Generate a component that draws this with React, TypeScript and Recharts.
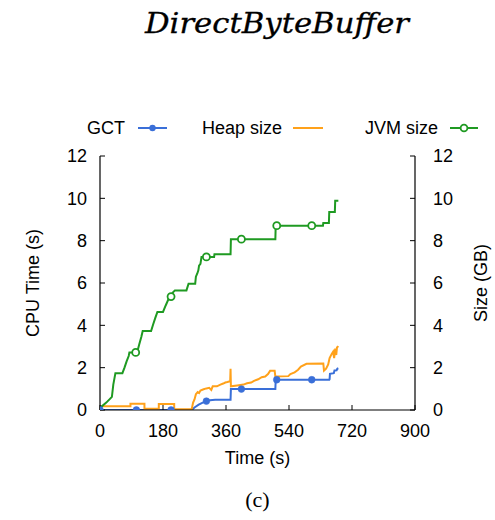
import React from 'react';
import { LineChart, Line, XAxis, YAxis, Legend } from 'recharts';

// Elapsed time (s) vs. metric value, as [time, value] pairs
const gctSeries: [number, number][] = [
  [0, 0], [262, 0], [270, 0.12], [282, 0.25], [292, 0.34], [304, 0.42], [314, 0.46], [329, 0.48],
  [373, 0.48], [374, 0.99], [501, 0.99], [502, 1.43], [655, 1.43], [656, 1.46], [657, 1.71],
  [668, 1.74], [670, 1.87], [676, 1.88], [678, 1.95], [681, 1.97],
];
const gctMarkers: [number, number][] = [
  [0, 0], [104, 0], [203, 0], [304, 0.42], [404, 0.99], [505, 1.43], [605, 1.43],
];

const heapSeries: [number, number][] = [
  [0, 0.18], [87, 0.18], [87, 0.29], [127, 0.29], [127, 0.06], [168, 0.06], [168, 0.28],
  [212, 0.28], [212, 0.04], [262, 0.04], [266, 0.35], [270, 0.5], [274, 0.75], [279, 0.85],
  [283, 0.8], [287, 0.92], [296, 0.98], [304, 1.02], [312, 1.05], [318, 0.95], [322, 1.12],
  [334, 1.12], [344, 1.2], [352, 1.25], [358, 1.3], [364, 1.32], [372, 1.36], [373, 1.95],
  [374, 1.12], [392, 1.16], [410, 1.2], [420, 1.26], [432, 1.3], [440, 1.38], [452, 1.45],
  [462, 1.55], [472, 1.58], [480, 1.7], [486, 1.85], [499, 1.85], [501, 1.58], [538, 1.6],
  [544, 1.7], [556, 1.78], [566, 1.9], [574, 2.05], [590, 2.18], [638, 2.2], [640, 1.86],
  [646, 1.95], [652, 2.15], [656, 2.45], [662, 2.65], [666, 2.75], [669, 2.45], [672, 2.9],
  [675, 2.6], [677, 2.95], [681, 3.02],
];

const jvmSeries: [number, number][] = [
  [0, 0.1], [18, 0.35], [34, 0.62], [38, 1.2], [44, 1.74], [64, 1.74], [70, 2.0], [76, 2.3],
  [82, 2.55], [84, 2.72], [106, 2.72], [112, 3.1], [118, 3.45], [122, 3.73], [146, 3.73],
  [152, 4.05], [158, 4.35], [164, 4.63], [180, 4.63], [188, 4.95], [196, 5.25], [203, 5.36],
  [208, 5.55], [214, 5.65], [247, 5.65], [253, 5.97], [272, 5.97], [274, 6.3], [278, 6.45],
  [281, 6.6], [283, 6.82], [287, 6.9], [290, 7.23], [326, 7.23], [327, 7.36], [373, 7.36],
  [374, 8.07], [501, 8.07], [502, 8.71], [637, 8.71], [638, 8.84], [654, 8.84], [655, 9.36],
  [671, 9.36], [672, 9.88], [681, 9.88],
];
const jvmMarkers: [number, number][] = [
  [102, 2.72], [203, 5.36], [304, 7.23], [404, 8.07], [505, 8.71], [605, 8.71],
];

const timeTicks = [0, 180, 360, 540, 720, 900];
const valueTicks = [0, 2, 4, 6, 8, 10, 12];

const GCT_COLOR = '#3a6fd8';
const HEAP_COLOR = '#ffa11a';
const JVM_COLOR = '#1f9a22';
const FONT = '"Liberation Sans", Arial, sans-serif';

const toRows = (pairs: [number, number][]) => pairs.map(([t, v]) => ({ t, v }));

const tickStyle = { fill: '#000', fontSize: 18, fontFamily: FONT };

const LegendBox = () => (
  <svg width={495} height={30} style={{ display: 'block' }}>
    <g fontFamily={FONT} fontSize={18} fill="#000">
      <text x={125} y={15} textAnchor="end" dominantBaseline="central">GCT</text>
      <line x1={138} x2={167} y1={15} y2={15} stroke={GCT_COLOR} strokeWidth={2} />
      <circle cx={152.5} cy={15} r={3.2} fill={GCT_COLOR} />
      <text x={282} y={15} textAnchor="end" dominantBaseline="central">Heap size</text>
      <line x1={293} x2={323} y1={15} y2={15} stroke={HEAP_COLOR} strokeWidth={2} />
      <text x={438} y={15} textAnchor="end" dominantBaseline="central">JVM size</text>
      <line x1={450} x2={478} y1={15} y2={15} stroke={JVM_COLOR} strokeWidth={2} />
      <circle cx={464} cy={15} r={3.4} fill="#fff" stroke={JVM_COLOR} strokeWidth={1.8} />
    </g>
  </svg>
);

export default function App() {
  return (
    <div style={{ position: 'absolute', left: 0, top: 0, width: 495, height: 520, background: '#fff' }}>
      <LineChart
        width={495}
        height={520}
        margin={{ top: 156, right: 20, bottom: 70, left: 40 }}
        style={{ fontFamily: FONT }}
      >
        <XAxis
          xAxisId={0}
          dataKey="t"
          type="number"
          domain={[0, 900]}
          ticks={timeTicks}
          allowDataOverflow
          height={40}
          axisLine={{ stroke: '#000', strokeWidth: 1.2 }}
          tickLine={{ stroke: '#000', strokeWidth: 1 }}
          tickSize={-5}
          tickMargin={19}
          tick={tickStyle}
        />
        <XAxis
          xAxisId="top"
          orientation="top"
          type="number"
          domain={[0, 900]}
          height={0}
          tick={false}
          tickLine={false}
          axisLine={{ stroke: '#000', strokeWidth: 1.2 }}
        />
        <YAxis
          yAxisId="left"
          type="number"
          domain={[0, 12]}
          ticks={valueTicks}
          allowDataOverflow
          width={60}
          axisLine={{ stroke: '#000', strokeWidth: 1.2 }}
          tickLine={{ stroke: '#000', strokeWidth: 1 }}
          tickSize={-5}
          tickMargin={18}
          tick={tickStyle}
        />
        <YAxis
          yAxisId="right"
          orientation="right"
          type="number"
          domain={[0, 12]}
          ticks={valueTicks}
          allowDataOverflow
          width={60}
          axisLine={{ stroke: '#000', strokeWidth: 1.2 }}
          tickLine={{ stroke: '#000', strokeWidth: 1 }}
          tickSize={-5}
          tickMargin={23}
          tick={{ ...tickStyle, textAnchor: 'start' }}
        />
        <Legend
          layout="horizontal"
          verticalAlign="middle"
          align="center"
          wrapperStyle={{ top: 113, left: 0, width: 495, height: 30 }}
          content={() => <LegendBox />}
        />
        <Line
          yAxisId="left"
          data={toRows(gctSeries)}
          dataKey="v"
          type="linear"
          stroke={GCT_COLOR}
          strokeWidth={2}
          dot={false}
          isAnimationActive={false}
        />
        <Line
          yAxisId="left"
          data={toRows(gctMarkers)}
          dataKey="v"
          stroke="none"
          dot={{ r: 3.4, fill: GCT_COLOR, stroke: GCT_COLOR, strokeWidth: 0.5 }}
          legendType="none"
          isAnimationActive={false}
        />
        <Line
          yAxisId="right"
          data={toRows(heapSeries)}
          dataKey="v"
          type="linear"
          stroke={HEAP_COLOR}
          strokeWidth={2}
          dot={false}
          isAnimationActive={false}
        />
        <Line
          yAxisId="right"
          data={toRows(jvmSeries)}
          dataKey="v"
          type="linear"
          stroke={JVM_COLOR}
          strokeWidth={2}
          dot={false}
          isAnimationActive={false}
        />
        <Line
          yAxisId="right"
          data={toRows(jvmMarkers)}
          dataKey="v"
          stroke="none"
          dot={{ r: 3.5, fill: '#fff', stroke: JVM_COLOR, strokeWidth: 1.8 }}
          legendType="none"
          isAnimationActive={false}
        />
      </LineChart>
      <svg
        width={495}
        height={520}
        style={{ position: 'absolute', left: 0, top: 0, pointerEvents: 'none' }}
      >
        <text
          x={277}
          y={33}
          textAnchor="middle"
          fontFamily='"DejaVu Serif", serif'
          fontStyle="italic"
          fontSize={27}
          fill="#000"
          stroke="#000"
          strokeWidth={0.3}
          textLength={264}
          lengthAdjust="spacingAndGlyphs"
        >
          DirectByteBuffer
        </text>
        <g fontFamily={FONT} fontSize={18} fill="#000">
          <text x={33} y={283} textAnchor="middle" dominantBaseline="central" transform="rotate(-90 33 283)">
            CPU Time (s)
          </text>
          <text x={481} y={283} textAnchor="middle" dominantBaseline="central" transform="rotate(-90 481 283)">
            Size (GB)
          </text>
          <text x={257.5} y={464} textAnchor="middle">Time (s)</text>
        </g>
        <text x={257.5} y={507} textAnchor="middle" fontFamily='"Liberation Serif", serif' fontSize={22}>
          (c)
        </text>
      </svg>
    </div>
  );
}
